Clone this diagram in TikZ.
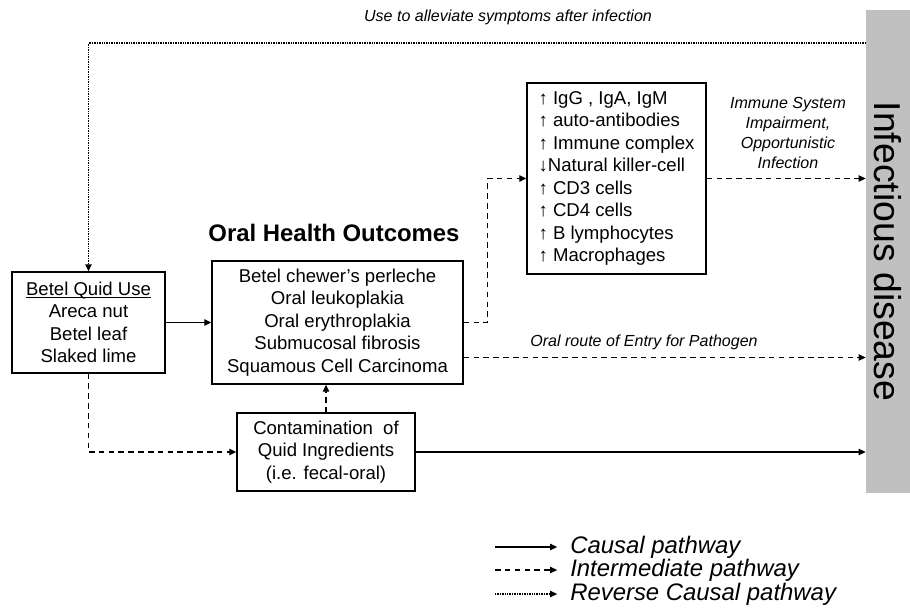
\documentclass[tikz,border=0pt]{standalone}
\usepackage{fontspec}
\setmainfont{Liberation Sans}
\usetikzlibrary{positioning,arrows.meta,calc}
\definecolor{bargray}{HTML}{C0C0C0}
\newcommand{\quidline}[1]{\setbox0\hbox{#1}\rlap{\rule[-2pt]{\wd0}{0.6pt}}\box0}

\begin{document}
\begin{tikzpicture}[x=0.025cm, y=-0.025cm,
  box/.style={draw, line width=0.9pt, align=center, inner sep=2pt, font=\fontsize{13.2}{16}\selectfont},
  causal/.style={line width=0.9pt, -{Triangle[length=5pt,width=4.5pt]}},
  inter/.style={causal, dash pattern=on 4pt off 3pt},
  rev/.style={causal, dash pattern=on 0.6pt off 0.6pt},
  lbl/.style={font=\fontsize{11.4}{14.2}\selectfont\itshape, align=center, inner sep=0pt},
  legtext/.style={font=\fontsize{17}{17}\selectfont\itshape, anchor=west, inner sep=0pt}]

% Canvas
\useasboundingbox (0,0) rectangle (910,611);

% Outcome bar
\node[fill=bargray, rotate=-90, minimum width=12.075cm, minimum height=1.1cm, inner sep=0pt,
      font=\fontsize{26.6}{30}\selectfont] (infect) at (888,251.5) {Infectious disease};

% Boxes
\node[box, minimum width=3.825cm, minimum height=2.525cm] (quid) at (88.5,322.5)
  {\quidline{Betel Quid Use}\\Areca nut\\Betel leaf\\Slaked lime};
\node[box, minimum width=6.275cm, minimum height=3.075cm] (oral) at (337.5,322.5)
  {Betel chewer's perleche\\Oral leukoplakia\\Oral erythroplakia\\Submucosal fibrosis\\Squamous Cell Carcinoma};
\node[font=\fontsize{17}{20}\selectfont\bfseries] (title) at (334,233) {Oral Health Outcomes};
\node[box, align=left, minimum width=4.475cm, minimum height=4.775cm] (immune) at (616.5,178.5)
  {↑ IgG , IgA, IgM\\↑ auto-antibodies\\↑ Immune complex\\↓Natural killer-cell\\↑ CD3 cells\\↑ CD4 cells\\↑ B lymphocytes\\↑ Macrophages};
\node[box, minimum width=4.45cm, minimum height=1.95cm] (contam) at (326,452)
  {Contamination~ of\\Quid Ingredients\\(i.e. fecal-oral)};

% Pathway labels
\node[lbl] (alleviate) at (508,17) {Use to alleviate symptoms after infection};
\node[lbl] (impair) at (788,133) {Immune System\\Impairment,\\Opportunistic\\Infection};
\node[lbl] (route) at (644,342) {Oral route of Entry for Pathogen};

% Causal pathways
\draw[causal] (quid.east) -- (oral.west);
\draw[causal] (contam.east) -- (contam.east -| infect.south);

% Intermediate pathways
\draw[inter] (oral.east) -- ++(24,0) |- (immune.west);
\draw[inter] (immune.east) -- (immune.east -| infect.south);
\draw[inter] ($(oral.east)+(0,35)$) -- ($(oral.east -| infect.south)+(0,35)$);
\draw[inter] (quid.south) |- (contam.west);
\draw[inter] (contam.north) -- (contam.north |- oral.south);

% Reverse causal pathway
\coordinate (revtop) at (88.5,43);
\draw[rev] (revtop -| infect.south) -- (revtop) -- (quid.north);

% Legend
\foreach \y/\s/\t in {547/causal/Causal pathway, 570/inter/Intermediate pathway, 594/rev/Reverse Causal pathway} {
    \node[legtext] (leg\s) at (570,\y) {\t};
    \coordinate (from\s) at (495,\y);
    \draw[\s] (from\s) -- ([xshift=-0.32cm]leg\s.west);
}

\end{tikzpicture}
\end{document}
